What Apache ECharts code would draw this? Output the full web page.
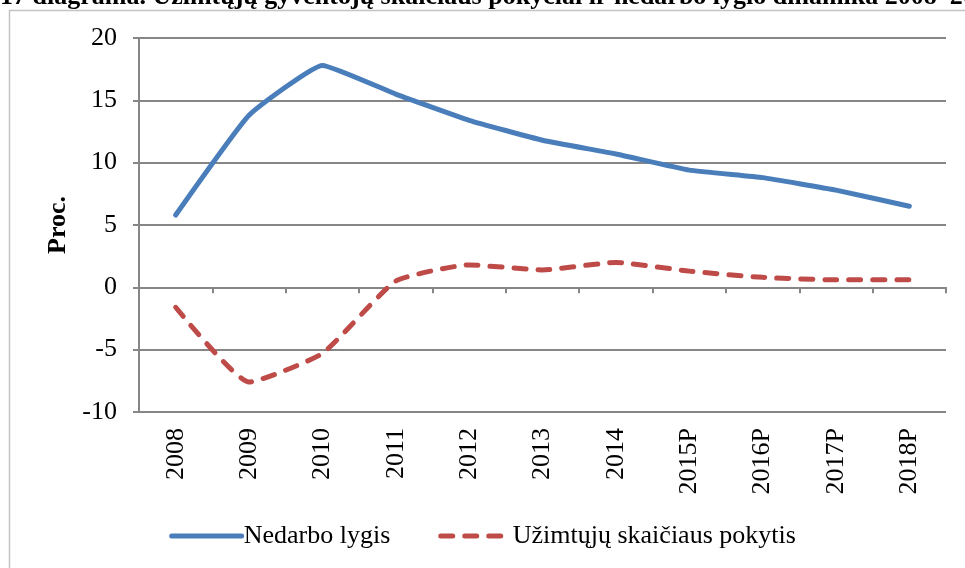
<!DOCTYPE html>
<html>
<head>
<meta charset="utf-8">
<script src="https://cdn.jsdelivr.net/npm/echarts@6/dist/echarts.min.js"></script>
<style>
	html, body { margin: 0; padding: 0; background: #ffffff; }
	#chart { width: 965px; height: 568px; }
</style>
</head>
<body>
<div id="chart"></div>
<script>
const years = ['2008', '2009', '2010', '2011', '2012', '2013', '2014', '2015P', '2016P', '2017P', '2018P'];
const nedarbo = [5.8, 13.8, 17.8, 15.5, 13.4, 11.8, 10.7, 9.4, 8.8, 7.8, 6.5];
const uzimtuju = [-1.6, -7.6, -5.3, 0.5, 1.8, 1.4, 2.0, 1.3, 0.8, 0.6, 0.6];
const yTicks = [-10, -5, 0, 5, 10, 15, 20];

const font = "'Liberation Serif', 'DejaVu Serif', serif";

const chart = echarts.init(document.getElementById('chart'));
const option = {
	animation: false,
	title: {
		text: '17 diagrama. Užimtųjų gyventojų skaičiaus pokyčiai ir nedarbo lygio dinamika 2008–2018 m.',
		left: 0,
		top: -16,
		padding: 0,
		textStyle: {
			fontFamily: font,
			fontSize: 26,
			fontWeight: 'bold',
			color: '#000000'
		}
	},
	graphic: [{
		type: 'rect',
		shape: { x: 9.5, y: 10.5, width: 980, height: 600 },
		style: { fill: 'none', stroke: '#c4c4c4', lineWidth: 1.5 },
		silent: true
	}],
	grid: {
		left: 139,
		right: 19,
		top: 38,
		bottom: 156
	},
	legend: {
		bottom: 14,
		left: 'center',
		itemWidth: 70,
		itemHeight: 10,
		itemGap: 48,
		itemStyle: { opacity: 0 },
		lineStyle: { width: 5, cap: 'round' },
		textStyle: {
			fontFamily: font,
			fontSize: 26,
			color: '#000000',
			padding: [0, 0, 0, -3]
		},
		data: ['Nedarbo lygis', 'Užimtųjų skaičiaus pokytis']
	},
	xAxis: {
		type: 'category',
		data: years,
		boundaryGap: true,
		axisLine: { onZero: true, lineStyle: { color: '#868686', width: 2 } },
		axisTick: { show: true, length: 6, lineStyle: { color: '#868686', width: 2 } },
		axisLabel: {
			rotate: 90,
			margin: 16,
			fontFamily: font,
			fontSize: 26,
			color: '#000000',
			interval: 0
		}
	},
	yAxis: {
		type: 'value',
		min: yTicks[0],
		max: yTicks[yTicks.length - 1],
		interval: 5,
		name: 'Proc.',
		nameLocation: 'middle',
		nameGap: 64,
		nameRotate: 90,
		nameTextStyle: {
			fontFamily: font,
			fontSize: 26,
			fontWeight: 'bold',
			color: '#000000'
		},
		axisLine: { show: true, lineStyle: { color: '#868686', width: 2 } },
		axisTick: { show: true, inside: false, length: 6, lineStyle: { color: '#868686', width: 2 } },
		axisLabel: {
			margin: 22,
			fontFamily: font,
			fontSize: 26,
			color: '#000000'
		},
		splitLine: { show: true, lineStyle: { color: '#868686', width: 2 } }
	},
	series: [{
		name: 'Nedarbo lygis',
		type: 'line',
		data: nedarbo,
		symbol: 'none',
		smooth: 0.12,
		color: '#4a7ebb',
		lineStyle: { color: '#4a7ebb', width: 5, cap: 'round', join: 'round' }
	}, {
		name: 'Užimtųjų skaičiaus pokytis',
		type: 'line',
		data: uzimtuju,
		symbol: 'none',
		smooth: 0.15,
		color: '#be4b48',
		lineStyle: { color: '#be4b48', width: 5, type: [12, 12], cap: 'round', join: 'round' }
	}]
};
chart.setOption(option);
</script>
</body>
</html>
